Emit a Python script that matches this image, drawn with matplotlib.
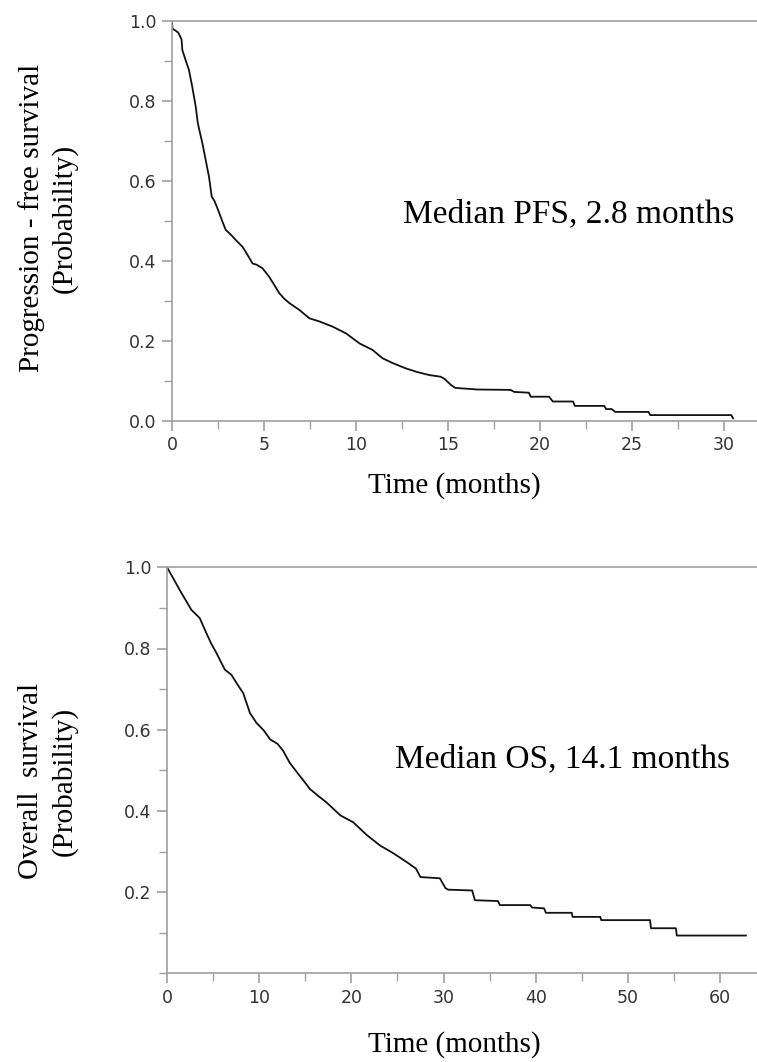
import matplotlib.pyplot as plt
from matplotlib.ticker import MultipleLocator

# PFS curve vertices (months, probability)
pfs_t = [0, 0.02, 0.2, 0.34, 0.45, 0.52, 0.56, 0.75, 0.92, 1.1, 1.29, 1.4, 1.47, 1.65, 1.83,
         2.01, 2.16, 2.3, 2.47, 2.74, 2.92, 3.2, 3.46, 3.83, 4.1, 4.38, 4.6, 4.92, 5.28,
         5.55, 5.83, 6.1, 6.38, 6.92, 7.47, 8.02, 8.74, 9.47, 10.2, 10.9, 11.45, 12.0,
         12.7, 13.3, 14.0, 14.6, 14.8, 15.2, 15.4, 16.6, 18.4, 18.6, 19.4, 19.5, 20.5,
         20.7, 21.8, 21.9, 23.5, 23.6, 23.9, 24.1, 25.9, 26.0, 30.4, 30.5]
pfs_s = [1.0, 0.98, 0.975, 0.97, 0.96, 0.953, 0.927, 0.90, 0.877, 0.835, 0.785, 0.745, 0.73,
         0.694, 0.652, 0.61, 0.56, 0.55, 0.531, 0.498, 0.477, 0.465, 0.452, 0.435, 0.415,
         0.393, 0.39, 0.381, 0.36, 0.34, 0.319, 0.305, 0.294, 0.277, 0.256, 0.248, 0.235,
         0.218, 0.193, 0.177, 0.156, 0.144, 0.131, 0.122, 0.114, 0.11, 0.105, 0.088, 0.082,
         0.078, 0.077, 0.072, 0.07, 0.06, 0.06, 0.048, 0.048, 0.037, 0.037, 0.029, 0.029,
         0.022, 0.022, 0.014, 0.014, 0.006]

# OS curve vertices (months, probability)
os_t = [0, 0.7, 1.38, 2.0, 2.65, 3.55, 4.27, 4.8, 5.36, 6.27, 7.0, 7.54, 8.27, 9.0, 9.7,
        10.5, 11.2, 12.0, 12.6, 13.3, 14.1, 14.8, 15.5, 16.4, 17.3, 18.8, 20.2, 21.7, 23.1,
        24.6, 26.0, 27.0, 27.5, 29.6, 30.2, 30.5, 33.1, 33.4, 35.9, 36.1, 39.4, 39.6, 40.9,
        41.1, 43.9, 44.0, 47.0, 47.1, 52.4, 52.5, 55.2, 55.3, 62.8]
os_s = [1.0, 0.972, 0.944, 0.92, 0.895, 0.875, 0.838, 0.812, 0.789, 0.748, 0.735, 0.715,
        0.69, 0.641, 0.617, 0.598, 0.576, 0.565, 0.548, 0.519, 0.495, 0.475, 0.454, 0.437,
        0.421, 0.389, 0.372, 0.34, 0.315, 0.295, 0.274, 0.258, 0.237, 0.234, 0.21, 0.206,
        0.204, 0.18, 0.178, 0.168, 0.168, 0.162, 0.16, 0.149, 0.149, 0.139, 0.139, 0.131,
        0.131, 0.111, 0.111, 0.093, 0.093]

pfs_note = 'Median PFS, 2.8 months'
os_note = 'Median OS, 14.1 months'
pfs_ylabel = 'Progression - free survival\n(Probability)'
os_ylabel = 'Overall  survival\n(Probability)'
xlabel = 'Time (months)'

W, H = 757, 1062
fig = plt.figure(figsize=(W / 100, H / 100), dpi=100)

serif = 'Liberation Serif'
spine_col = '#a0a0a0'
tick_col = '#333333'


def style(ax):
    ax.spines['right'].set_visible(False)
    for s in ['left', 'bottom', 'top']:
        ax.spines[s].set_color(spine_col)
        ax.spines[s].set_linewidth(1.2)
    ax.tick_params(which='both', direction='out', color=spine_col, labelcolor=tick_col,
                   labelsize=12.5, top=False, right=False, pad=4)
    ax.tick_params(which='major', length=7, width=1.2)
    ax.tick_params(which='minor', length=6, width=1.0)
    for lab in ax.get_xticklabels() + ax.get_yticklabels():
        lab.set_family('DejaVu Sans')


# top panel
ax1 = fig.add_axes([172 / W, 1 - 420.7 / H, 1 - 172 / W, 400 / H])
ax1.plot(pfs_t, pfs_s, color='#111111', lw=1.3)
ax1.set_xlim(0, 31.8)
ax1.set_ylim(0, 1.0)
ax1.set_xticks([0, 5, 10, 15, 20, 25, 30])
ax1.xaxis.set_minor_locator(MultipleLocator(2.5))
ax1.set_yticks([0, 0.2, 0.4, 0.6, 0.8, 1.0])
ax1.set_yticklabels(['0.0', '0.2', '0.4', '0.6', '0.8', '1.0'])
ax1.yaxis.set_minor_locator(MultipleLocator(0.1))
style(ax1)
ax1.text(12.55, 0.497, pfs_note, family=serif, fontsize=24, ha='left', va='baseline')

# bottom panel
ax2 = fig.add_axes([167 / W, 1 - 973.3 / H, 1 - 167 / W, 406 / H])
ax2.plot(os_t, os_s, color='#111111', lw=1.3)
ax2.set_xlim(0, 64.0)
ax2.set_ylim(0, 1.0)
ax2.set_xticks([0, 10, 20, 30, 40, 50, 60])
ax2.xaxis.set_minor_locator(MultipleLocator(5))
ax2.set_yticks([0.2, 0.4, 0.6, 0.8, 1.0])
ax2.set_yticklabels(['0.2', '0.4', '0.6', '0.8', '1.0'])
ax2.yaxis.set_minor_locator(MultipleLocator(0.1))
style(ax2)
ax2.text(24.7, 0.507, os_note, family=serif, fontsize=24, ha='left', va='baseline')

# axis labels
fig.text(48 / W, 1 - 218 / H, pfs_ylabel, rotation=90, family=serif, fontsize=21,
         ha='center', va='center', linespacing=1.3)
fig.text(48 / W, 1 - 781 / H, os_ylabel, rotation=90, family=serif, fontsize=21,
         ha='center', va='center', linespacing=1.3)
fig.text(454 / W, 1 - 493 / H, xlabel, family=serif, fontsize=21,
         ha='center', va='baseline')
fig.text(454 / W, 1 - 1052 / H, xlabel, family=serif, fontsize=21,
         ha='center', va='baseline')

fig.savefig('out.png', dpi=100)
